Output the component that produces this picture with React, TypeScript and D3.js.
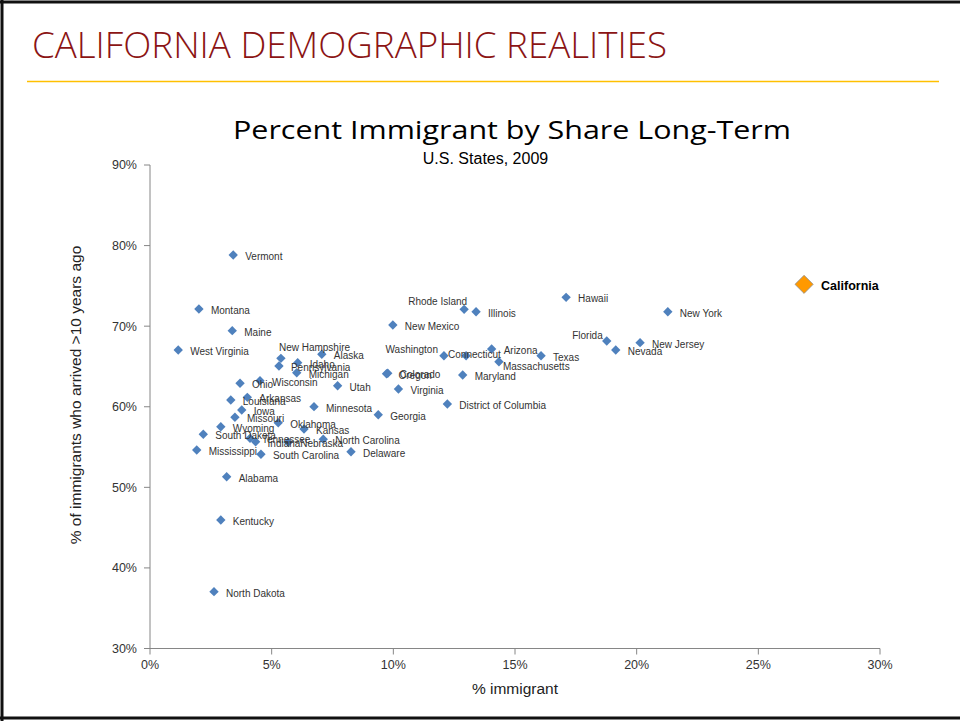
import React from "react";
import * as d3 from "d3";

const states: string[] = [
  "Vermont", "Montana", "Maine", "West Virginia", "New Hampshire", "Pennsylvania", "Idaho", "Alaska",
  "Michigan", "Wisconsin", "Ohio", "Utah", "Louisiana", "Arkansas", "Iowa", "Minnesota",
  "Missouri", "Oklahoma", "Kansas", "Wyoming", "South Dakota", "Mississippi", "Tennessee", "Indiana",
  "Nebraska", "North Carolina", "South Carolina", "Delaware", "Alabama", "Georgia", "Kentucky", "North Dakota",
  "Rhode Island", "Illinois", "New Mexico", "Washington", "Connecticut", "Arizona", "Massachusetts", "Texas",
  "Colorado", "Oregon", "Maryland", "Virginia", "District of Columbia", "Hawaii", "New York", "Florida",
  "Nevada", "New Jersey",
];
const pctImmigrant: number[] = [
  3.42, 2.01, 3.38, 1.16, 5.38, 5.30, 6.07, 7.06,
  6.03, 4.52, 3.70, 7.71, 3.32, 4.00, 3.77, 6.74,
  3.49, 5.27, 6.33, 2.91, 2.19, 1.92, 4.11, 4.34,
  5.68, 7.12, 4.56, 8.26, 3.15, 9.38, 2.91, 2.63,
  12.91, 13.40, 9.98, 12.08, 12.99, 14.04, 14.34, 16.07,
  9.77, 9.72, 12.85, 10.21, 12.22, 17.10, 21.28, 18.77,
  19.14, 20.14,
];
const pctLongTerm: number[] = [
  78.83, 72.13, 69.44, 67.04, 66.01, 65.06, 65.47, 66.51,
  64.22, 63.23, 62.91, 62.61, 60.84, 61.17, 59.60, 60.01,
  58.69, 58.02, 57.24, 57.52, 56.58, 54.63, 56.08, 55.66,
  55.59, 55.96, 54.10, 54.42, 51.32, 59.01, 45.94, 37.05,
  72.09, 71.79, 70.14, 66.33, 66.33, 67.17, 65.59, 66.33,
  64.15, 64.10, 63.94, 62.20, 60.34, 73.58, 71.79, 68.16,
  67.04, 67.95,
];
const highlightName = "California";
const highlightImmigrant = 26.88;
const highlightLongTerm = 75.19;

const xTicks: number[] = [0, 5, 10, 15, 20, 25, 30];
const yTicks: number[] = [30, 40, 50, 60, 70, 80, 90];

const slideTitle = "CALIFORNIA DEMOGRAPHIC REALITIES";
const chartTitle = "Percent Immigrant by Share Long-Term";
const chartSubtitle = "U.S. States, 2009";
const xAxisTitle = "% immigrant";
const yAxisTitle = "% of immigrants who arrived >10 years ago";

// label placement overrides (anchor, dx, dy) for labels not placed to the right
const labelPlacement: Record<string, [string, number, number]> = {
  "New Hampshire": ["start", -2, -11],
  "Rhode Island": ["end", 3, -8],
  "Washington": ["end", -6, -6],
  "Connecticut": ["start", -18, -1.5],
  "Florida": ["end", -4, -5],
  "Massachusetts": ["start", 4, 5],
};

export default function App() {
  const W = 960, H = 721;
  const x = d3.scaleLinear().domain([0, 30]).range([150, 880]);
  const y = d3.scaleLinear().domain([30, 90]).range([648.5, 165]);
  const dia = d3.symbol().type(d3.symbolDiamond2).size(56)();
  const diaBig = d3.symbol().type(d3.symbolDiamond2).size(210)();
  const fmt = (v: number) => `${v}%`;
  const labelFont = "'Liberation Sans', Arial, sans-serif";
  const tickColor = "#333";

  return (
    <svg width={W} height={H} style={{ position: "absolute", left: 0, top: 0, background: "#fff" }}
      fontFamily={labelFont}>
      <rect x={0} y={0} width={W} height={H} fill="#fff" />
      {/* frame */}
      <line x1={0} x2={W} y1={2} y2={2} stroke="#111" strokeWidth={3} />
      <line x1={0} x2={W} y1={718} y2={718} stroke="#111" strokeWidth={3} />
      <line x1={2} x2={2} y1={0} y2={H} stroke="#111" strokeWidth={3} />

      <text x={32} y={58} fill="#8B1414" fontSize={37} fontFamily="'Liberation Sans Narrow', 'Open Sans', sans-serif"
        fontWeight={300} textLength={635} lengthAdjust="spacingAndGlyphs">{slideTitle}</text>
      <line x1={27} x2={939} y1={81.5} y2={81.5} stroke="#FFC000" strokeWidth={1.5} />

      <text x={512} y={139} textAnchor="middle" fontSize={25} fill="#000"
        fontFamily="'Open Sans', 'Liberation Sans', sans-serif" textLength={558} lengthAdjust="spacingAndGlyphs">{chartTitle}</text>
      <text x={485.5} y={164} textAnchor="middle" fontSize={16} fill="#000">{chartSubtitle}</text>

      {/* axes */}
      <line x1={x(0)} x2={x(0)} y1={y(90)} y2={y(30)} stroke="#868686" strokeWidth={1} />
      <line x1={x(0)} x2={x(30)} y1={y(30)} y2={y(30)} stroke="#868686" strokeWidth={1} />
      {yTicks.map((t) => (
        <g key={"y" + t}>
          <line x1={x(0) - 6} x2={x(0)} y1={y(t)} y2={y(t)} stroke="#868686" />
          <text x={137} y={y(t)} dy="0.35em" textAnchor="end" fontSize={12.5} fill={tickColor}>{fmt(t)}</text>
        </g>
      ))}
      {xTicks.map((t) => (
        <g key={"x" + t}>
          <line x1={x(t)} x2={x(t)} y1={y(30)} y2={y(30) + 6} stroke="#868686" />
          <text x={x(t)} y={669} textAnchor="middle" fontSize={12.5} fill={tickColor}>{fmt(t)}</text>
        </g>
      ))}
      <text x={515} y={694} textAnchor="middle" fontSize={15.5} fill="#222">{xAxisTitle}</text>
      <text transform={`translate(81,395) rotate(-90)`} textAnchor="middle" fontSize={15.5} fill="#222">{yAxisTitle}</text>

      {/* points */}
      {states.map((s, i) => (
        <path key={"p" + s} d={dia as string} transform={`translate(${x(pctImmigrant[i])},${y(pctLongTerm[i])})`}
          fill="#4F81BD" />
      ))}
      {states.map((s, i) => {
        const p = labelPlacement[s] || ["start", 12, 1.5];
        return (
          <text key={"l" + s} x={x(pctImmigrant[i]) + p[1]} y={y(pctLongTerm[i]) + p[2]} dy="0.35em"
            textAnchor={p[0] as any} fontSize={10} fill="#333">{s}</text>
        );
      })}

      <path d={diaBig as string} transform={`translate(${x(highlightImmigrant)},${y(highlightLongTerm)})`}
        fill="#FF9900" stroke="#8E8E8E" strokeWidth={0.8} />
      <text x={x(highlightImmigrant) + 17} y={y(highlightLongTerm) + 1} dy="0.35em" fontSize={12.5}
        fontWeight="bold" fill="#000">{highlightName}</text>
    </svg>
  );
}
